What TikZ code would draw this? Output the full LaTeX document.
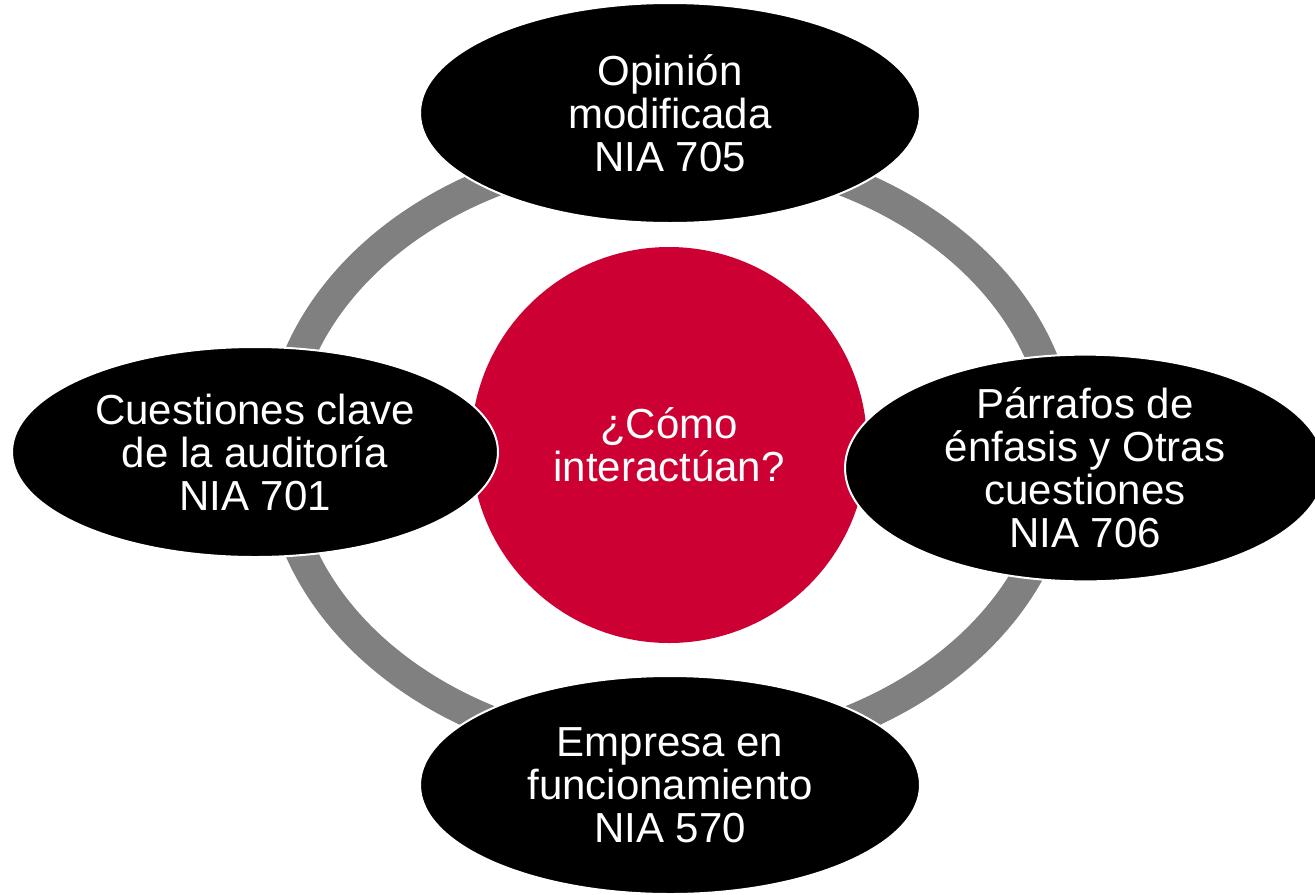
\documentclass[tikz,border=0pt]{standalone}
\usepackage{fontspec}
\setmainfont{Liberation Sans}
\usetikzlibrary{shapes.geometric}
\definecolor{hubred}{RGB}{204,0,51}
\definecolor{ringgray}{RGB}{128,128,128}

\begin{document}
\begin{tikzpicture}[node distance=170pt,
        main node/.style={ellipse,fill=black,draw=white,line width=1pt,text=white,align=center,
          inner sep=0pt,minimum width=250pt,minimum height=110pt,font=\fontsize{21}{21.5}\selectfont},
        hub node/.style={circle,fill=hubred,text=white,align=center,inner sep=0pt,
          minimum size=198pt,font=\fontsize{21}{21.5}\selectfont}]
        \useasboundingbox (0,0) rectangle (657.5pt,-447pt);
        % ring behind everything
        \draw[ringgray,line width=15.5pt] (335pt,-226pt) ellipse [x radius=195.5pt,y radius=151.5pt];

        \node[hub node] (0) at (334.5pt,-222.5pt) {¿Cómo\\interactúan?};
        \node[main node] (1) [above of=0, node distance=166pt, xshift=0.5pt] {Opinión\\modificada\\NIA 705};
        \node[main node] (2) [right of=0, node distance=208pt, yshift=-11.5pt, minimum width=240pt]
          {Párrafos de\\énfasis y Otras\\cuestiones\\NIA 706};
        \node[main node] (3) [below of=0, node distance=170pt, xshift=0.5pt, minimum height=109pt]
          {Empresa en\\funcionamiento\\NIA 570};
        \node[main node] (4) [left of=0, node distance=207pt, yshift=-3.5pt, minimum width=243pt, minimum height=105pt]
          {Cuestiones clave\\de la auditoría\\NIA 701};
\end{tikzpicture}
\end{document}
